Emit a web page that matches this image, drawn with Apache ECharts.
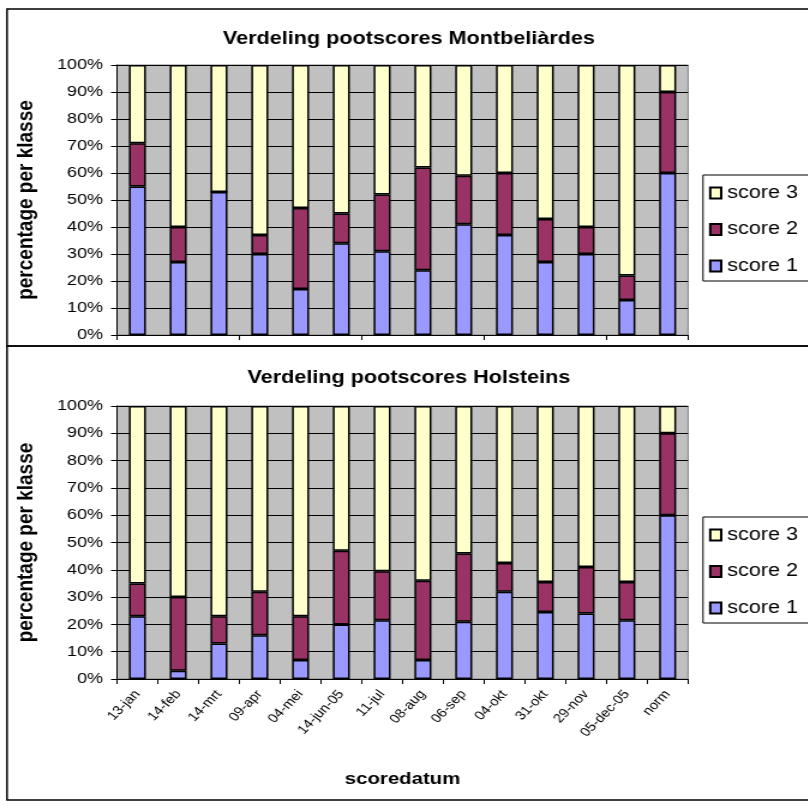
<!DOCTYPE html>
<html>
<head>
<meta charset="utf-8">
<script src="https://cdn.jsdelivr.net/npm/echarts@6/dist/echarts.min.js"></script>
<style>
  html, body { margin: 0; padding: 0; background: #fff; overflow: hidden; }
  /* the drawing is laid out in a narrower frame and widened by a horizontal stretch */
  #chart { width: 674px; height: 812px; transform: scaleX(1.2); transform-origin: 0 0; }
</style>
</head>
<body>
<div id="chart"></div>
<script>
// Score dates (shared by both breeds) plus the reference norm
const categories = ['13-jan', '14-feb', '14-mrt', '09-apr', '04-mei', '14-jun-05', '11-jul',
  '08-aug', '06-sep', '04-okt', '31-okt', '29-nov', '05-dec-05', 'norm'];

// Montbeliàrdes: percentage of animals per score class
const montScore1 = [55, 27, 53, 30, 17, 34, 31, 24, 41, 37, 27, 30, 13, 60];
const montScore2 = [16, 13, 0, 7, 30, 11, 21, 38, 18, 23, 16, 10, 9, 30];
const montScore3 = [29, 60, 47, 63, 53, 55, 48, 38, 41, 40, 57, 60, 78, 10];

// Holsteins: percentage of animals per score class
const holScore1 = [23, 3, 13, 16, 7, 20, 21.5, 7, 21, 32, 24.5, 24, 21.5, 60];
const holScore2 = [12, 27, 10, 16, 16, 27, 18, 29, 25, 10.5, 11, 17, 14, 30];
const holScore3 = [65, 70, 77, 68, 77, 53, 60.5, 64, 54, 57.5, 64.5, 59, 64.5, 10];

const yTicks = [0, 10, 20, 30, 40, 50, 60, 70, 80, 90, 100];

const FONT = 'Arial, "Liberation Sans", sans-serif';
const colors = { s1: '#9999FF', s2: '#993366', s3: '#FFFFCC' };

// horizontal stretch applied to the container; x positions are given in page pixels
const K = 1.2;
const px = v => v / K;

function yAxisFor(gridIndex) {
  return {
    type: 'value', gridIndex,
    min: yTicks[0], max: yTicks[yTicks.length - 1], interval: 10,
    name: 'percentage per klasse', nameLocation: 'middle', nameGap: px(79),
    nameTextStyle: { fontFamily: FONT, fontSize: 19, fontWeight: 'bold', color: '#000' },
    axisLine: { show: true, lineStyle: { color: '#000', width: 1 } },
    axisTick: { show: true, length: px(6), lineStyle: { color: '#000' } },
    axisLabel: { formatter: '{value}%', fontFamily: FONT, fontSize: 15, color: '#000', margin: px(14) },
    splitLine: { show: true, lineStyle: { color: '#000', width: 1 } }
  };
}

function xAxisFor(gridIndex, showLabels) {
  return {
    type: 'category', gridIndex, data: categories,
    axisLine: { show: true, lineStyle: { color: '#000', width: 1 } },
    axisTick: { show: true, length: 5, lineStyle: { color: '#000' } },
    axisLabel: showLabels
      ? { show: true, rotate: 50, interval: 0, fontFamily: FONT, fontSize: 12.5, color: '#000', margin: 13 }
      : { show: false },
    name: showLabels ? 'scoredatum' : '',
    nameLocation: 'middle', nameGap: 92,
    nameTextStyle: { fontFamily: FONT, fontSize: 17, fontWeight: 'bold', color: '#000' }
  };
}

function barSeries(name, data, color, idx, stack) {
  return {
    name, type: 'bar', stack, data,
    xAxisIndex: idx, yAxisIndex: idx,
    barWidth: px(17),
    itemStyle: { color, borderColor: '#000', borderWidth: 1.5 },
    emphasis: { disabled: true }
  };
}

function legendFor(id, top) {
  return {
    id, orient: 'vertical', left: px(703), top,
    data: ['score 3', 'score 2', 'score 1'],
    icon: 'rect', itemWidth: px(11), itemHeight: 11, itemGap: 18.5,
    padding: [9, px(40), 6, px(6)],
    backgroundColor: '#fff', borderColor: '#000', borderWidth: 1,
    textStyle: { fontFamily: FONT, fontSize: 18, lineHeight: 18, color: '#000' },
    selectedMode: false
  };
}

const chart = echarts.init(document.getElementById('chart'), null, { renderer: 'canvas' });

chart.setOption({
  animation: false,
  backgroundColor: '#fff',
  graphic: [
    { type: 'rect', shape: { x: px(7), y: 9, width: px(820), height: 337 }, style: { fill: 'none', stroke: '#000', lineWidth: 1.5 }, z: -1 },
    { type: 'rect', shape: { x: px(7), y: 346, width: px(820), height: 454 }, style: { fill: 'none', stroke: '#000', lineWidth: 1.5 }, z: -1 }
  ],
  title: [
    { text: 'Verdeling pootscores Montbeliàrdes', left: px(403), top: 25, textAlign: 'center',
      textStyle: { fontFamily: FONT, fontSize: 18, fontWeight: 'bold', color: '#000' } },
    { text: 'Verdeling pootscores Holsteins', left: px(403), top: 364, textAlign: 'center',
      textStyle: { fontFamily: FONT, fontSize: 18, fontWeight: 'bold', color: '#000' } }
  ],
  legend: [legendFor('legMont', 175), legendFor('legHol', 517)],
  grid: [
    { left: px(117), top: 65, width: px(571), height: 270, show: true, backgroundColor: '#C0C0C0', borderColor: '#808080', borderWidth: 1 },
    { left: px(117), top: 406, width: px(571), height: 273, show: true, backgroundColor: '#C0C0C0', borderColor: '#808080', borderWidth: 1 }
  ],
  xAxis: [xAxisFor(0, false), xAxisFor(1, true)],
  yAxis: [yAxisFor(0), yAxisFor(1)],
  series: [
    barSeries('score 1', montScore1, colors.s1, 0, 'mont'),
    barSeries('score 2', montScore2, colors.s2, 0, 'mont'),
    barSeries('score 3', montScore3, colors.s3, 0, 'mont'),
    barSeries('score 1', holScore1, colors.s1, 1, 'hol'),
    barSeries('score 2', holScore2, colors.s2, 1, 'hol'),
    barSeries('score 3', holScore3, colors.s3, 1, 'hol')
  ]
});
</script>
</body>
</html>
